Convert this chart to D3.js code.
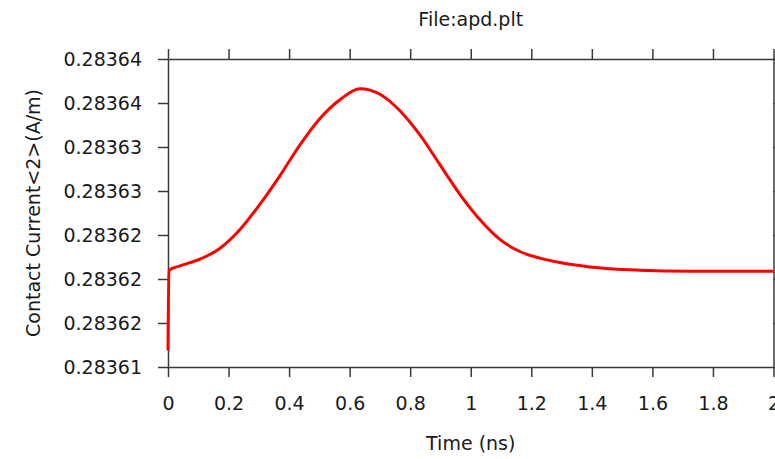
<!DOCTYPE html>
<html>
<head>
<meta charset="utf-8">
<script src="https://cdn.jsdelivr.net/npm/d3@7"></script>
<style>
  body { margin: 0; background: #fff; }
  svg { display: block; }
  .axis path, .axis line { stroke: #3a3a3a; stroke-width: 1.5; }
  .axis text { font-family: "DejaVu Sans", Verdana, sans-serif; font-size: 19px; fill: #1a1a1a; }
  .label { font-family: "DejaVu Sans", Verdana, sans-serif; font-size: 19px; fill: #1a1a1a; }
</style>
</head>
<body>
<svg id="chart"></svg>
<script>
// data (time in ns, contact current in A/m)
const timeNs = [0, 0.003, 0.04, 0.106, 0.172, 0.238, 0.304, 0.37, 0.436, 0.502, 0.568, 0.634,
  0.7, 0.766, 0.832, 0.898, 0.964, 1.03, 1.096, 1.162, 1.228, 1.294, 1.393, 1.558, 1.723, 2.0];
const current = [0.2836135, 0.2836208, 0.2836212, 0.2836218, 0.2836228, 0.2836245, 0.2836268,
  0.2836294, 0.2836322, 0.2836346, 0.2836363, 0.2836373, 0.2836368, 0.2836353, 0.2836331,
  0.2836304, 0.2836277, 0.2836254, 0.2836236, 0.2836225, 0.2836219, 0.2836215, 0.2836211,
  0.2836208, 0.2836207, 0.2836207];

const xTicks = [0, 0.2, 0.4, 0.6, 0.8, 1, 1.2, 1.4, 1.6, 1.8, 2];
const xTickLabels = ["0", "0.2", "0.4", "0.6", "0.8", "1", "1.2", "1.4", "1.6", "1.8", "2"];
const yTicks = [0.283612, 0.283616, 0.28362, 0.283624, 0.283628, 0.283632, 0.283636, 0.28364];
const yTickLabels = ["0.28361", "0.28362", "0.28362", "0.28362", "0.28363", "0.28363", "0.28364", "0.28364"];

const title = "File:apd.plt";
const xLabel = "Time (ns)";
const yLabel = "Contact Current<2>(A/m)";

let width = 775, height = 459,
    margin = {top: 59, right: 1.5, bottom: 92, left: 168},
    w = width - margin.left - margin.right,
    h = height - margin.top - margin.bottom;

let svg = d3.select("#chart")
    .attr("width", width)
    .attr("height", height);

let g = svg.append("g")
    .attr("transform", "translate(" + margin.left + "," + margin.top + ")");

let xScale = d3.scaleLinear().domain([0, 2]).range([0, w]);
let yScale = d3.scaleLinear().domain([yTicks[0], yTicks[yTicks.length - 1]]).range([h, 0]);

// axes on all four sides, ticks pointing outwards
g.append("g")
    .attr("class", "axis axis--x")
    .attr("transform", "translate(0," + h + ")")
    .call(d3.axisBottom(xScale).tickValues(xTicks)
        .tickFormat(function(d, i) { return xTickLabels[i]; })
        .tickSizeInner(10).tickSizeOuter(0).tickPadding(20));

g.append("g")
    .attr("class", "axis axis--top")
    .call(d3.axisTop(xScale).tickValues(xTicks).tickFormat("")
        .tickSizeInner(10).tickSizeOuter(0));

g.append("g")
    .attr("class", "axis axis--y")
    .call(d3.axisLeft(yScale).tickValues(yTicks)
        .tickFormat(function(d, i) { return yTickLabels[i]; })
        .tickSizeInner(10).tickSizeOuter(0).tickPadding(16));

g.append("g")
    .attr("class", "axis axis--right")
    .attr("transform", "translate(" + w + ",0)")
    .call(d3.axisRight(yScale).tickValues(yTicks).tickFormat("")
        .tickSizeInner(10).tickSizeOuter(0));

// the curve (monotone keeps the jump at t=0 from overshooting)
let line = d3.line()
    .x(function(d) { return xScale(d[0]); })
    .y(function(d) { return yScale(d[1]); })
    .curve(d3.curveMonotoneX);

g.append("path")
    .datum(d3.zip(timeNs, current))
    .attr("fill", "none")
    .attr("stroke", "#ff0000")
    .attr("stroke-width", 3)
    .attr("stroke-linejoin", "round")
    .attr("d", line);

// titles
svg.append("text")
    .attr("class", "label")
    .attr("x", margin.left + w / 2)
    .attr("y", 26)
    .attr("text-anchor", "middle")
    .text(title);

svg.append("text")
    .attr("class", "label")
    .attr("x", margin.left + w / 2)
    .attr("y", 450)
    .attr("text-anchor", "middle")
    .text(xLabel);

svg.append("text")
    .attr("class", "label")
    .attr("transform", "translate(40," + (margin.top + h / 2) + ") rotate(-90)")
    .attr("text-anchor", "middle")
    .text(yLabel);
</script>
</body>
</html>
